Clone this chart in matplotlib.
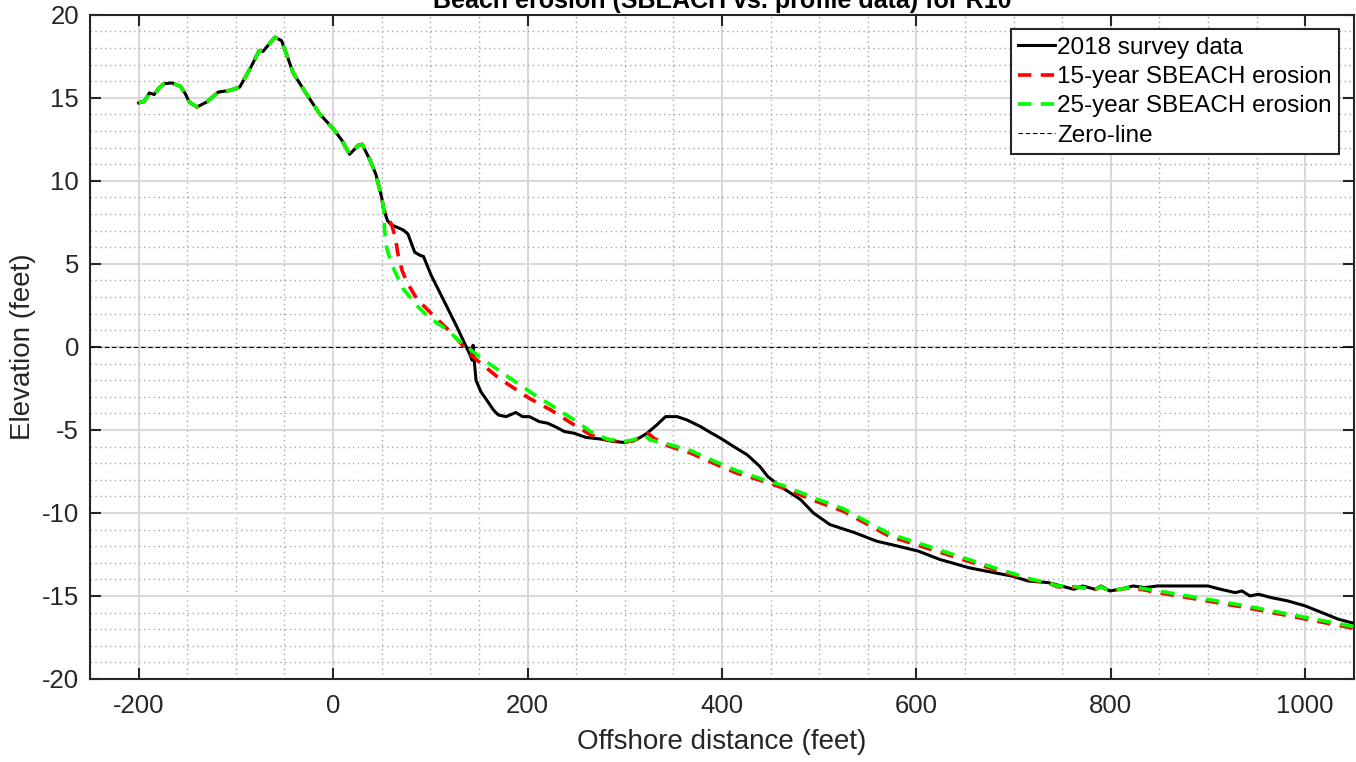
import matplotlib
matplotlib.use("Agg")
import matplotlib.pyplot as plt
from matplotlib.ticker import MultipleLocator

plt.rcParams['font.family'] = ['Liberation Sans', 'DejaVu Sans']
plt.rcParams['axes.unicode_minus'] = False

# landward part of the profile, unchanged by SBEACH (all three curves share it)
dune_x = [-200, -194, -189, -184, -179, -174, -166, -157, -152, -148, -140, -130,
          -118, -106, -96, -85, -76, -72, -60, -53, -41, -27, -14, 0, 9, 17, 22,
          26, 30, 38, 44, 50, 52]
dune_y = [14.7, 14.8, 15.3, 15.2, 15.6, 15.85, 15.9, 15.7, 15.25, 14.75, 14.45,
          14.75, 15.35, 15.45, 15.65, 16.8, 17.85, 17.8, 18.65, 18.45, 16.5, 15.2,
          14.05, 13.15, 12.45, 11.6, 11.9, 12.15, 12.2, 11.25, 10.4, 9.0, 8.3]

# 2018 survey, seaward of the dune
survey_x = [56, 60, 66, 72, 77, 84, 90, 93, 101, 113, 127, 135, 141, 143, 144,
            145.5, 147, 152, 158, 165, 170, 178, 188, 195, 202, 212, 221, 230,
            238, 248, 260, 275, 289, 299, 309, 316, 323, 333, 342, 354, 364, 378,
            388, 400, 412, 426, 439, 447, 460, 481, 494, 511, 537, 559, 581, 602,
            624, 654, 680, 698, 715, 736, 749, 762, 771, 784, 790, 799, 809, 823,
            835, 848, 879, 900, 913, 928, 935, 943, 952, 965, 982, 1000, 1017,
            1034, 1050]
survey_y = [7.6, 7.35, 7.2, 7.05, 6.8, 5.7, 5.5, 5.45, 4.3, 2.9, 1.25, 0.25, -0.5,
            -0.8, 0.1, -1.0, -2.0, -2.7, -3.2, -3.8, -4.1, -4.2, -3.95, -4.2, -4.2,
            -4.5, -4.6, -4.85, -5.1, -5.2, -5.45, -5.55, -5.7, -5.75, -5.65, -5.45,
            -5.2, -4.7, -4.2, -4.2, -4.4, -4.8, -5.15, -5.55, -6.0, -6.5, -7.2,
            -7.8, -8.4, -9.2, -10.0, -10.7, -11.2, -11.7, -12.0, -12.3, -12.8,
            -13.3, -13.6, -13.8, -14.1, -14.2, -14.4, -14.6, -14.4, -14.6, -14.4,
            -14.7, -14.6, -14.4, -14.5, -14.4, -14.4, -14.4, -14.6, -14.8, -14.7,
            -15.0, -14.9, -15.1, -15.3, -15.6, -16.0, -16.4, -16.65]

# 15-year SBEACH eroded profile
sb15_x = [56, 60, 64, 67, 71, 76, 86, 103, 120, 134, 144, 171, 202, 224, 248, 265,
          282, 299, 309, 318, 324, 330, 344, 368, 391, 415, 443, 463, 497, 525,
          572, 680, 719, 735, 745, 758, 771, 784, 790, 799, 809, 822, 844, 939,
          1050]
sb15_y = [7.8, 7.4, 6.6, 5.5, 4.6, 3.9, 2.9, 1.9, 0.95, 0.05, -0.6, -1.9, -3.1,
          -3.8, -4.7, -5.3, -5.6, -5.75, -5.65, -5.4, -5.2, -5.5, -5.95, -6.4,
          -7.0, -7.6, -8.1, -8.5, -9.3, -9.9, -11.4, -13.4, -14.05, -14.2, -14.45,
          -14.45, -14.5, -14.6, -14.45, -14.7, -14.6, -14.5, -14.75, -15.7, -16.95]

# 25-year SBEACH eroded profile
sb25_x = [53, 55, 60, 72, 86, 99, 117, 130, 141, 154, 175, 205, 224, 248, 265, 282,
          299, 309, 316, 321, 326, 344, 368, 391, 415, 443, 463, 497, 525, 572,
          680, 719, 735, 745, 758, 771, 784, 790, 799, 809, 822, 844, 939, 1050]
sb25_y = [7.0, 6.0, 5.0, 3.5, 2.5, 1.75, 1.05, 0.35, -0.15, -0.75, -1.6, -2.8,
          -3.5, -4.4, -5.1, -5.55, -5.7, -5.6, -5.45, -5.35, -5.6, -5.85, -6.25,
          -6.85, -7.45, -8.0, -8.35, -9.15, -9.75, -11.25, -13.3, -14.0, -14.2,
          -14.4, -14.4, -14.5, -14.6, -14.45, -14.7, -14.6, -14.45, -14.65, -15.6,
          -16.85]

fig = plt.figure(figsize=(13.56, 7.62), dpi=100)
ax = fig.add_axes([0.0664, 0.109, 0.932, 0.8715])

ax.plot(dune_x + survey_x, dune_y + survey_y, color='k', lw=2.2,
        label='2018 survey data', zorder=3)
ax.plot(dune_x + sb15_x, dune_y + sb15_y, color='#ff0000', lw=2.6,
        dashes=(3.7, 2.6), label='15-year SBEACH erosion', zorder=4)
ax.plot(dune_x + sb25_x, dune_y + sb25_y, color='#00ff00', lw=2.6,
        dashes=(3.7, 2.6), label='25-year SBEACH erosion', zorder=5)
ax.axhline(0, color='k', lw=0.8, dashes=(4, 2.5), label='Zero-line', zorder=6)

ax.set_xlim(-250, 1050)
ax.set_ylim(-20, 20)
ax.xaxis.set_major_locator(MultipleLocator(200))
ax.xaxis.set_minor_locator(MultipleLocator(50))
ax.yaxis.set_major_locator(MultipleLocator(5))
ax.yaxis.set_minor_locator(MultipleLocator(1))

ax.grid(which='major', color='#d9d9d9', lw=1.5, ls='-')
ax.grid(which='minor', color='#a8a8a8', lw=1.0, ls=(0, (1, 2.5)))
ax.set_axisbelow(True)

ax.tick_params(which='major', direction='in', length=8, width=1.5,
               top=True, right=True, labelsize=18.5, colors='#262626')
ax.tick_params(axis='x', which='major', pad=11)
ax.tick_params(axis='y', which='major', pad=8)
ax.tick_params(which='minor', length=0)
for sp in ax.spines.values():
    sp.set_linewidth(1.5)
    sp.set_color('#262626')

ax.set_xlabel('Offshore distance (feet)', fontsize=20, color='#262626', labelpad=8)
ax.set_ylabel('Elevation (feet)', fontsize=20, color='#262626', labelpad=4)
ax.set_title('Beach erosion (SBEACH vs. profile data) for R10', fontsize=18,
             fontweight='bold', pad=5)

leg = ax.legend(loc='upper right', fontsize=17.5, handlelength=1.5,
                handletextpad=0.1, borderpad=0.3, labelspacing=0.3,
                borderaxespad=0.6, fancybox=False, framealpha=1)
leg.get_frame().set_edgecolor('#262626')
leg.get_frame().set_linewidth(1.5)

fig.savefig('out.png', dpi=100)
